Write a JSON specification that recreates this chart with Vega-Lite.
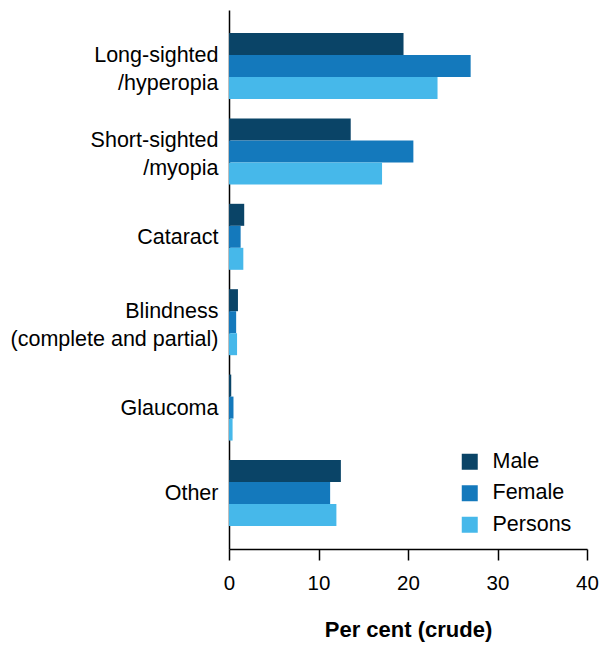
{
  "$schema": "https://vega.github.io/schema/vega-lite/v6.json",
  "width": 358,
  "height": 539,
  "autosize": {"type": "none"},
  "padding": {"left": 229, "top": 10, "right": 12, "bottom": 97},
  "background": "white",
  "config": {
    "font": "Liberation Sans",
    "view": {"stroke": null}
  },
  "data": {
    "values": [
      {"condition": "Long-sighted|/hyperopia", "sex": "Male", "value": 19.5},
      {"condition": "Long-sighted|/hyperopia", "sex": "Female", "value": 27.0},
      {"condition": "Long-sighted|/hyperopia", "sex": "Persons", "value": 23.3},
      {"condition": "Short-sighted|/myopia", "sex": "Male", "value": 13.6},
      {"condition": "Short-sighted|/myopia", "sex": "Female", "value": 20.6},
      {"condition": "Short-sighted|/myopia", "sex": "Persons", "value": 17.1},
      {"condition": "Cataract", "sex": "Male", "value": 1.7},
      {"condition": "Cataract", "sex": "Female", "value": 1.3},
      {"condition": "Cataract", "sex": "Persons", "value": 1.6},
      {"condition": "Blindness|(complete and partial)", "sex": "Male", "value": 1.0},
      {"condition": "Blindness|(complete and partial)", "sex": "Female", "value": 0.8},
      {"condition": "Blindness|(complete and partial)", "sex": "Persons", "value": 0.9},
      {"condition": "Glaucoma", "sex": "Male", "value": 0.25},
      {"condition": "Glaucoma", "sex": "Female", "value": 0.5},
      {"condition": "Glaucoma", "sex": "Persons", "value": 0.4},
      {"condition": "Other", "sex": "Male", "value": 12.5},
      {"condition": "Other", "sex": "Female", "value": 11.3},
      {"condition": "Other", "sex": "Persons", "value": 12.0}
    ]
  },
  "mark": {"type": "bar"},
  "encoding": {
    "y": {
      "field": "condition",
      "type": "nominal",
      "sort": null,
      "scale": {"paddingInner": 0.227, "paddingOuter": 0.27},
      "axis": {
        "title": null,
        "labelExpr": "split(datum.label, '|')",
        "labelFontSize": 21.5,
        "labelColor": "black",
        "labelLineHeight": 28,
        "labelPadding": 11,
        "labelOffset": {"condition": {"test": "indexof(datum.value, '|') >= 0", "value": -10}, "value": 1},
        "ticks": false,
        "domainColor": "black",
        "domainWidth": 1.5,
        "labelLimit": 300
      }
    },
    "yOffset": {
      "field": "sex",
      "type": "nominal",
      "sort": ["Male", "Female", "Persons"],
      "scale": {"paddingInner": 0, "paddingOuter": 0}
    },
    "x": {
      "field": "value",
      "type": "quantitative",
      "scale": {"domain": [0, 40], "nice": false},
      "axis": {
        "title": "Per cent (crude)",
        "titleFontSize": 22,
        "titleFontWeight": "bold",
        "titleColor": "black",
        "titlePadding": 26,
        "values": [0, 10, 20, 30, 40],
        "grid": false,
        "labelFontSize": 20.5,
        "labelColor": "black",
        "labelPadding": 13,
        "tickSize": 11,
        "tickColor": "black",
        "tickWidth": 1.5,
        "domainColor": "black",
        "domainWidth": 1.5,
        "labelFlush": false
      }
    },
    "color": {
      "field": "sex",
      "type": "nominal",
      "sort": ["Male", "Female", "Persons"],
      "scale": {"domain": ["Male", "Female", "Persons"], "range": ["#0a4467", "#1479bc", "#46b8ea"]},
      "legend": {
        "title": null,
        "orient": "none",
        "legendX": 230,
        "legendY": 441,
        "padding": 0,
        "symbolType": "square",
        "symbolSize": 256,
        "symbolStrokeWidth": 0,
        "symbolOpacity": 1,
        "labelFontSize": 21.5,
        "labelColor": "black",
        "labelOffset": 12,
        "rowPadding": 8.5
      }
    }
  }
}
